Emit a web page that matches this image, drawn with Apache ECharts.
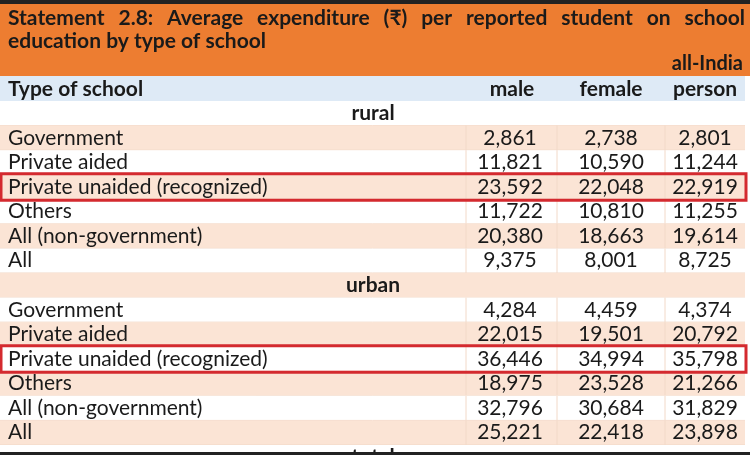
<!DOCTYPE html>
<html>
<head>
<meta charset="utf-8">
<script src="https://cdn.jsdelivr.net/npm/echarts@6/dist/echarts.min.js"></script>
<style>html,body{margin:0;padding:0;background:#fff}#main{width:750px;height:455px}</style>
</head>
<body>
<div id="main"></div>
<script>
// 表格数据
var rows = ['rural', 'Government', 'Private aided', 'Private unaided (recognized)', 'Others', 'All (non-government)', 'All',
            'urban', 'Government', 'Private aided', 'Private unaided (recognized)', 'Others', 'All (non-government)', 'All', 'total'];
var male   = [null, 2861, 11821, 23592, 11722, 20380, 9375, null, 4284, 22015, 36446, 18975, 32796, 25221, null];
var female = [null, 2738, 10590, 22048, 10810, 18663, 8001, null, 4459, 19501, 34994, 23528, 30684, 22418, null];
var person = [null, 2801, 11244, 22919, 11255, 19614, 8725, null, 4374, 20792, 35798, 21266, 31829, 23898, null];
var sections = ['rural', 'urban', 'total'];
var highlight = [3, 10];
var headers = ['Type of school', 'male', 'female', 'person'];
var titleLine1 = ['Statement', '2.8:', 'Average', 'expenditure', '(₹)', 'per', 'reported', 'student', 'on', 'school'];

var FONT = 'Lato, "Open Sans", "DejaVu Sans", sans-serif';
var colEdge = [0, 466, 557, 665, 745]; // 列边界
var myChart = echarts.init(document.getElementById('main'));

function fmt(v) { return v == null ? '' : v.toLocaleString('en-US'); }

var data = rows.map(function (r, i) { return [0, i, male[i], female[i], person[i]]; });

// 标题第一行两端对齐
var titleFont = 'bold 21px ' + FONT;
var widths = titleLine1.map(function (w) { return echarts.format.getTextRect ? echarts.format.getTextRect(w, titleFont).width : w.length * 10; });
var totalW = widths.reduce(function (a, b) { return a + b; }, 0);
var gap = (737 - totalW) / (titleLine1.length - 1);
var titleGraphics = [];
var xx = 8;
titleLine1.forEach(function (w, k) {
  titleGraphics.push({ type: 'text', x: xx, y: 18, style: { text: w, font: titleFont, fill: '#1a1a1a', verticalAlign: 'middle' } });
  xx += widths[k] + gap;
});

var option = {
  animation: false,
  grid: { left: 0, right: 0, top: 101, height: 24.57 * rows.length },
  xAxis: { type: 'value', min: 0, max: 750, show: false },
  yAxis: { type: 'category', data: rows, inverse: true, show: false },
  graphic: [
    { type: 'rect', shape: { x: 0, y: 0, width: 750, height: 4 }, style: { fill: '#222' } },
    { type: 'rect', shape: { x: 0, y: 4, width: 750, height: 72 }, style: { fill: '#ED7D31' } }
  ].concat(titleGraphics).concat([
    { type: 'text', x: 8, y: 41, style: { text: 'education by type of school', font: titleFont, fill: '#1a1a1a', verticalAlign: 'middle' } },
    { type: 'text', x: 743, y: 64, style: { text: 'all-India', font: 'bold 20px ' + FONT, fill: '#1a1a1a', align: 'right', verticalAlign: 'middle' } },
    { type: 'rect', shape: { x: 0, y: 76, width: 745, height: 25 }, style: { fill: '#DEEAF6' } },
    { type: 'text', x: 8, y: 89, style: { text: headers[0], font: 'bold 21px ' + FONT, fill: '#1a1a1a', verticalAlign: 'middle' } },
    { type: 'text', x: 512, y: 89, style: { text: headers[1], font: 'bold 21px ' + FONT, fill: '#1a1a1a', align: 'center', verticalAlign: 'middle' } },
    { type: 'text', x: 611, y: 89, style: { text: headers[2], font: 'bold 21px ' + FONT, fill: '#1a1a1a', align: 'center', verticalAlign: 'middle' } },
    { type: 'text', x: 705, y: 89, style: { text: headers[3], font: 'bold 21px ' + FONT, fill: '#1a1a1a', align: 'center', verticalAlign: 'middle' } },
    { type: 'rect', shape: { x: 0, y: 452, width: 750, height: 3 }, style: { fill: '#222' }, z: 100 }
  ]),
  series: [{
    type: 'custom',
    data: data,
    clip: false,
    renderItem: function (params, api) {
      var i = api.value(1);
      var top = 101 + i * 24.57;
      var h = 24.57;
      var cy = top + h / 2;
      var name = rows[i];
      var isSec = sections.indexOf(name) >= 0;
      var children = [{
        type: 'rect', shape: { x: 0, y: top, width: colEdge[4], height: h },
        style: { fill: i % 2 === 1 ? '#FBE4D5' : '#fff' }
      }];
      if (isSec) {
        children.push({ type: 'text', style: { x: 373, y: cy, text: name, font: 'bold 21px ' + FONT, fill: '#1a1a1a', align: 'center', verticalAlign: 'middle' } });
      } else {
        for (var k = 1; k < 4; k++) {
          children.push({ type: 'line', shape: { x1: colEdge[k], y1: top, x2: colEdge[k], y2: top + h }, style: { stroke: '#F2D9C8', lineWidth: 1 } });
        }
        children.push({ type: 'text', style: { x: 8, y: cy, text: name, font: '21px ' + FONT, fill: '#1a1a1a', verticalAlign: 'middle' } });
        var vals = [api.value(2), api.value(3), api.value(4)];
        var cx = [510, 611, 705];
        vals.forEach(function (v, j) {
          children.push({ type: 'text', style: { x: cx[j], y: cy, text: fmt(v), font: '21px ' + FONT, fill: '#1a1a1a', align: 'center', verticalAlign: 'middle' } });
        });
      }
      children.push({ type: 'line', shape: { x1: 0, y1: top + h, x2: colEdge[4], y2: top + h }, style: { stroke: '#F2D9C8', lineWidth: 1 } });
      if (highlight.indexOf(i) >= 0) {
        children.push({ type: 'rect', z2: 10, shape: { x: 1, y: top - 1, width: colEdge[4], height: h + 2 }, style: { fill: 'none', stroke: '#D42A2F', lineWidth: 3 } });
      }
      return { type: 'group', children: children };
    }
  }]
};
myChart.setOption(option);
</script>
</body>
</html>
